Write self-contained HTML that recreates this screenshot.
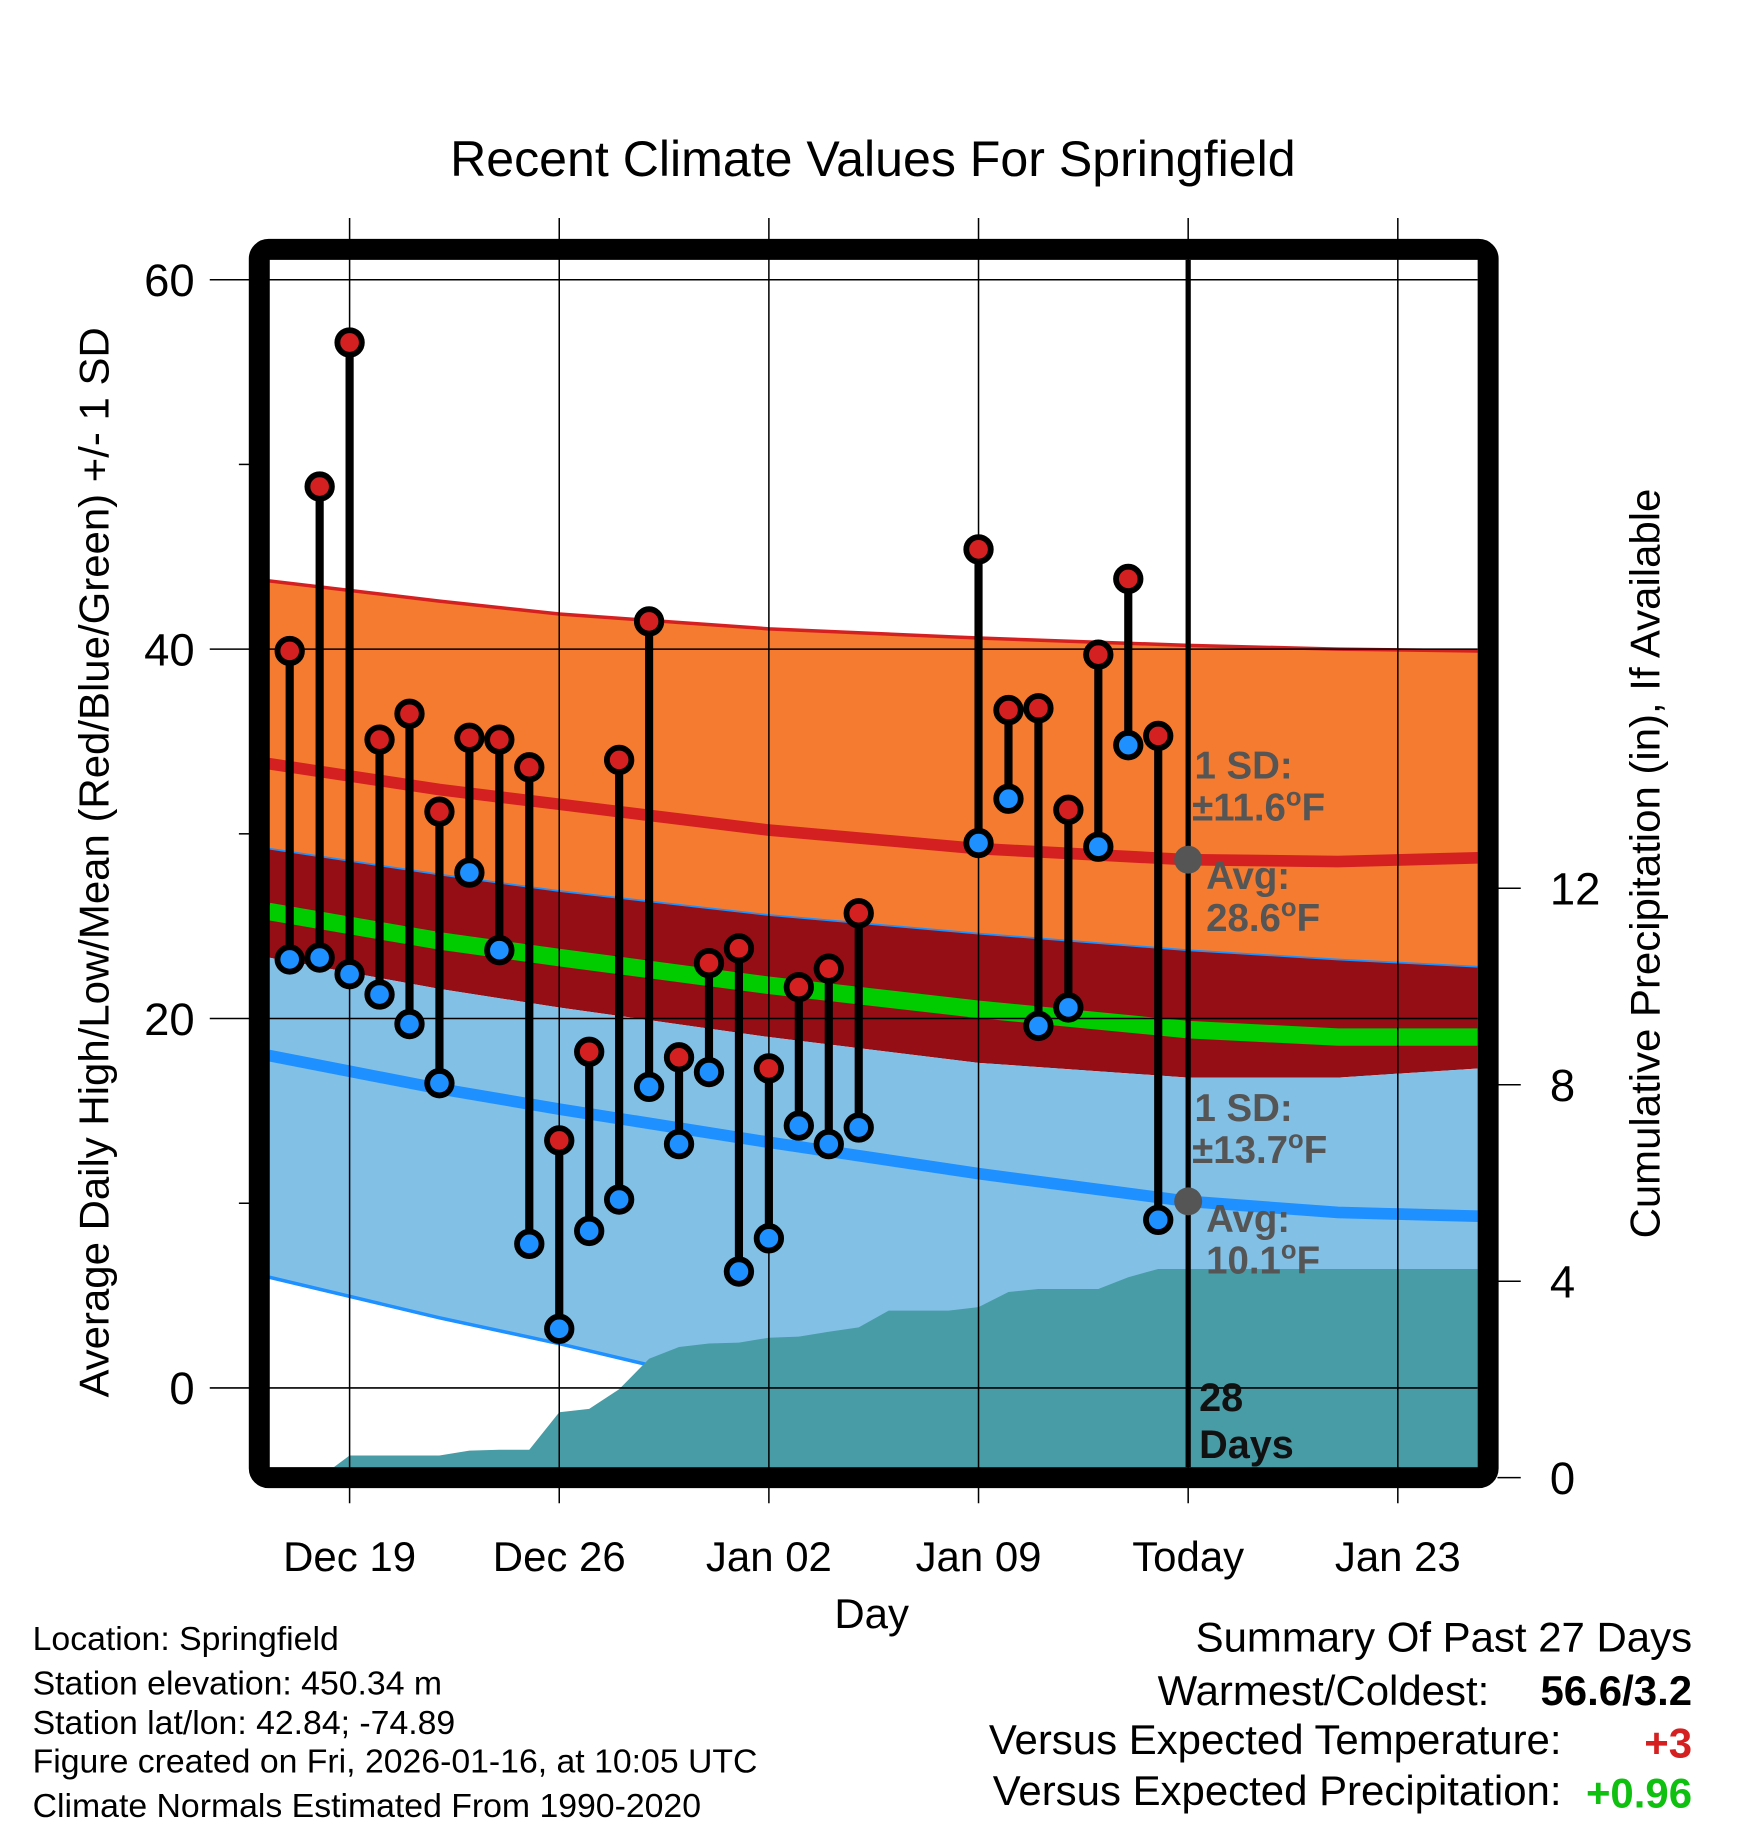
<!DOCTYPE html>
<html><head><meta charset="utf-8"><style>
html,body{margin:0;padding:0;background:#fff;}
svg{display:block;font-family:"Liberation Sans",Arial,sans-serif;}
</style></head><body>
<svg id="chart" xmlns="http://www.w3.org/2000/svg" width="1748" height="1828" viewBox="0 0 1500 1568.6">
<defs><clipPath id="plotclip"><rect x="231" y="223" width="1037" height="1036"/></clipPath></defs>
<rect x="0" y="0" width="1500" height="1568.6" fill="#fff"/>
<text x="749" y="151" font-size="43" text-anchor="middle">Recent Climate Values For Springfield</text>
<g id="bands" clip-path="url(#plotclip)"></g>
<g id="grid"></g>
<g id="marks"></g>
<rect x="222.5" y="214" width="1054.5" height="1054" rx="8" fill="none" stroke="#000" stroke-width="18"/>
<g id="axes"></g>
<text transform="translate(93,740) rotate(-90)" font-size="36" text-anchor="middle">Average Daily High/Low/Mean (Red/Blue/Green) +/- 1 SD</text>
<text transform="translate(1424,741) rotate(-90)" font-size="36" text-anchor="middle">Cumulative Precipitation (in), If Available</text>
<text x="748" y="1397" font-size="36" text-anchor="middle">Day</text>
<g font-size="33" font-weight="bold" fill="#555">
<text x="1025" y="668">1 SD:</text>
<text x="1023" y="704">±11.6<tspan font-size="22" dy="-13">o</tspan><tspan dy="13">F</tspan></text>
<text x="1035" y="763">Avg:</text>
<text x="1035" y="799">28.6<tspan font-size="22" dy="-13">o</tspan><tspan dy="13">F</tspan></text>
<text x="1025" y="962">1 SD:</text>
<text x="1023" y="998">±13.7<tspan font-size="22" dy="-13">o</tspan><tspan dy="13">F</tspan></text>
<text x="1035" y="1057">Avg:</text>
<text x="1035" y="1093">10.1<tspan font-size="22" dy="-13">o</tspan><tspan dy="13">F</tspan></text>
</g>
<g font-size="34" font-weight="bold" fill="#111">
<text x="1029" y="1211">28</text><text x="1029" y="1251">Days</text>
</g>
<g font-size="29">
<text x="28" y="1416">Location: Springfield</text>
<text x="28" y="1454">Station elevation: 450.34 m</text>
<text x="28" y="1488">Station lat/lon: 42.84; -74.89</text>
<text x="28" y="1521">Figure created on Fri, 2026-01-16, at 10:05 UTC</text>
<text x="28" y="1559">Climate Normals Estimated From 1990-2020</text>
</g>
<g font-size="36">
<text x="1452" y="1417" text-anchor="end">Summary Of Past 27 Days</text>
<text x="1278" y="1463" text-anchor="end">Warmest/Coldest:</text>
<text x="1452" y="1463" text-anchor="end" font-weight="bold">56.6/3.2</text>
<text x="1340" y="1505" text-anchor="end">Versus Expected Temperature:</text>
<text x="1452" y="1508" text-anchor="end" font-weight="bold" fill="#d42020">+3</text>
<text x="1340" y="1549" text-anchor="end">Versus Expected Precipitation:</text>
<text x="1452" y="1551" text-anchor="end" font-weight="bold" fill="#10c010">+0.96</text>
</g>
</svg>
<script>
const tickDates = ["Dec 19","Dec 26","Jan 02","Jan 09","Today","Jan 23"];
const tickDays = [0,7,14,21,28,35];
const obsDays = [-2,-1,0,1,2,3,4,5,6,7,8,9,10,11,12,13,14,15,16,17,21,22,23,24,25,26,27];
const highs = [39.9,48.8,56.6,35.1,36.5,31.2,35.2,35.1,33.6,13.4,18.2,34.0,41.5,17.9,23.0,23.8,17.3,21.7,22.7,25.7,45.4,36.7,36.8,31.3,39.7,43.8,35.3];
const lows = [23.2,23.3,22.4,21.3,19.7,16.5,27.9,23.7,7.8,3.2,8.5,10.2,16.3,13.2,17.1,6.3,8.1,14.2,13.2,14.1,29.5,31.9,19.6,20.6,29.3,34.8,9.1];
const normDays = [-2.7,3,7,14,21,28,33,37.7];
const highUpper = [43.7,42.6,41.9,41.1,40.6,40.2,40.0,39.9];
const highNorm = [33.8,32.4,31.6,30.2,29.2,28.6,28.5,28.7];
const highLower = [29.2,27.8,26.9,25.6,24.6,23.7,23.2,22.8];
const meanNorm = [25.8,24.2,23.3,21.8,20.5,19.4,19.0,19.0];
const lowUpper = [23.3,21.6,20.6,19.0,17.6,16.8,16.8,17.3];
const lowNorm = [18.0,16.2,15.1,13.3,11.6,10.1,9.5,9.3];
const lowLower = [6.0,3.8,2.4,-0.3,-2.4,-3.8,-4.3,-4.5];
const precipDays = [-2,-1,0,1,2,3,4,5,6,7,8,9,10,11,12,13,14,15,16,17,18,19,20,21,22,23,24,25,26,27,37.7];
const precip = [0,0,0.45,0.45,0.45,0.45,0.55,0.57,0.57,1.33,1.4,1.8,2.42,2.66,2.73,2.75,2.85,2.87,2.97,3.06,3.4,3.4,3.4,3.47,3.78,3.84,3.84,3.84,4.08,4.25,4.25];
const yTicks = [0,20,40,60];
const yMinor = [10,30,50];
const y2Ticks = [0,4,8,12];

const NS="http://www.w3.org/2000/svg";
const X = d => 300 + d*25.7;
const Y = v => 1191 - v*15.85;
const Y2 = p => 1268 - p*42.15;
function mk(tag, attrs, parent){const e=document.createElementNS(NS,tag);for(const k in attrs)e.setAttribute(k,attrs[k]);parent.appendChild(e);return e;}
const bands=document.getElementById('bands'),grid=document.getElementById('grid'),marks=document.getElementById('marks'),axes=document.getElementById('axes');
function line(vals){return normDays.map((d,i)=>X(d).toFixed(1)+','+Y(vals[i]).toFixed(1));}
function area(top,bot){return line(top).concat(line(bot).reverse()).join(' ');}
let e;
e=mk('polygon',{points:area(highUpper,highLower),fill:'#f47b2f'},bands);


e=mk('polygon',{points:area(highLower,lowUpper),fill:'#950e15'},bands);


e=mk('polygon',{points:area(lowUpper,lowLower),fill:'#82c0e6'},bands);


e=mk('polyline',{points:line(highUpper).join(' '),fill:'none',stroke:'#d42020','stroke-width':3},bands);


e=mk('polyline',{points:line(highLower).join(' '),fill:'none',stroke:'#1e90ff','stroke-width':1.5},bands);


e=mk('polyline',{points:line(lowLower).join(' '),fill:'none',stroke:'#1e90ff','stroke-width':3},bands);


e=mk('polyline',{points:line(highNorm).join(' '),fill:'none',stroke:'#d42020','stroke-width':10},bands);


e=mk('polyline',{points:line(meanNorm).join(' '),fill:'none',stroke:'#00cc00','stroke-width':15},bands);


e=mk('polyline',{points:line(lowNorm).join(' '),fill:'none',stroke:'#1e90ff','stroke-width':10},bands);


const pp=precipDays.map((d,i)=>X(d).toFixed(1)+','+Y2(precip[i]).toFixed(1));
pp.push(X(37.7)+','+1280, X(-2)+','+1280);
e=mk('polygon',{points:pp.join(' '),fill:'#479ca5'},bands);



tickDays.forEach((d,i)=>{
  e=mk('line',{x1:X(d),x2:X(d),y1:187,y2:1290,stroke:'#000','stroke-width':1.3},grid);
  
  
  e=mk('text',{x:X(d),y:1348,'font-size':36,'text-anchor':'middle'},axes);
  e.textContent=tickDates[i];
  
  
});
yTicks.forEach(v=>{
  e=mk('line',{x1:180,x2:1268,y1:Y(v),y2:Y(v),stroke:'#000','stroke-width':1.3},grid);
  
  
  e=mk('text',{x:167,y:Y(v)+14,'font-size':39,'text-anchor':'end'},axes);
  e.textContent=v;
  
  
});
yMinor.forEach(v=>{
  e=mk('line',{x1:205,x2:215,y1:Y(v),y2:Y(v),stroke:'#000','stroke-width':1.3},axes);
  
  
});
y2Ticks.forEach(p=>{
  e=mk('line',{x1:1285,x2:1305,y1:Y2(p),y2:Y2(p),stroke:'#000','stroke-width':1.3},axes);
  
  
  e=mk('text',{x:1330,y:Y2(p)+14,'font-size':39},axes);
  e.textContent=p;
  
  
});
e=mk('line',{x1:X(28),x2:X(28),y1:223,y2:1259,stroke:'#000','stroke-width':4.5},marks);


e=mk('circle',{cx:X(28),cy:Y(highNorm[5]),r:12,fill:'#555'},marks);


e=mk('circle',{cx:X(28),cy:Y(lowNorm[5]),r:12,fill:'#555'},marks);


obsDays.forEach((d,i)=>{
  e=mk('line',{x1:X(d),x2:X(d),y1:Y(highs[i]),y2:Y(lows[i]),stroke:'#000','stroke-width':7},marks);
  
  
});
obsDays.forEach((d,i)=>{
  e=mk('circle',{cx:X(d),cy:Y(highs[i]),r:10.5,fill:'#d42020',stroke:'#000','stroke-width':5},marks);
  
  
  e=mk('circle',{cx:X(d),cy:Y(lows[i]),r:10.5,fill:'#1e90ff',stroke:'#000','stroke-width':5},marks);
  
  
});
</script>
</body></html>
